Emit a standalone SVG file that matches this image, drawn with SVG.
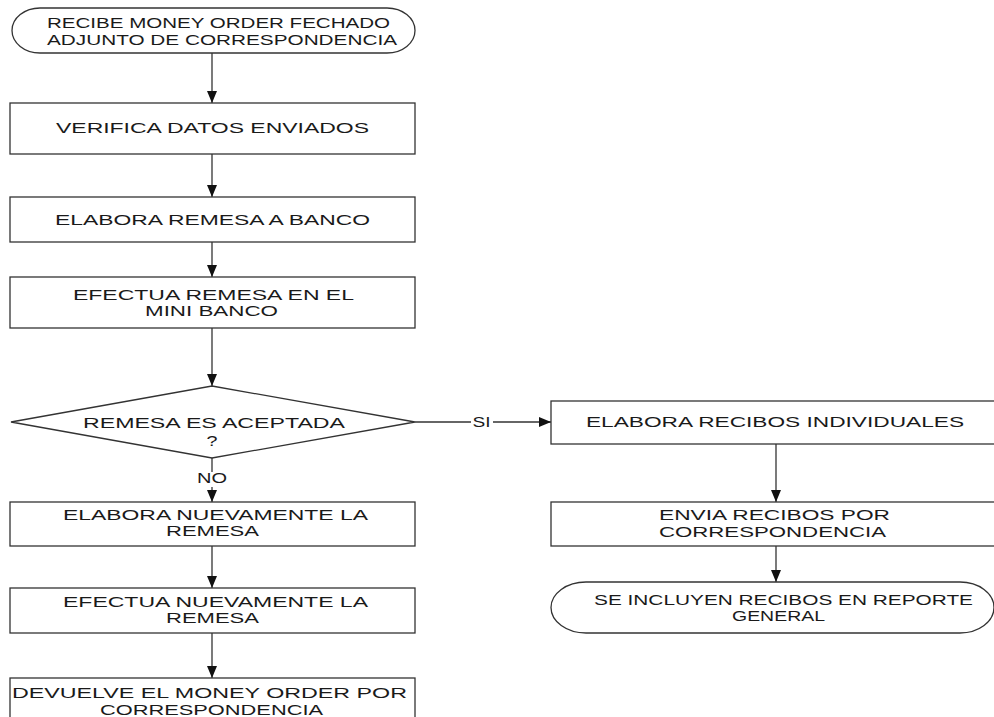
<svg xmlns="http://www.w3.org/2000/svg" width="994" height="717" viewBox="0 0 994 717">
<style>
.shape{fill:#fff;stroke:#333;stroke-width:1.3}
.conn{fill:none;stroke:#333;stroke-width:1.3}
text{font-family:"Liberation Sans",Arial,sans-serif;font-size:14px;fill:#1a1a1a;text-anchor:middle}
</style>
<defs>
<marker id="arr" markerUnits="userSpaceOnUse" markerWidth="12" markerHeight="12" viewBox="0 0 12 12" refX="12" refY="6" orient="auto">
<path d="M0,1 L12,6 L0,11 Z" fill="#111"/>
</marker>
</defs>
<rect width="994" height="717" fill="#fff"/>
<g id="connectors">
<line class="conn" x1="212" y1="53" x2="212" y2="103" marker-end="url(#arr)"/>
<line class="conn" x1="212" y1="154" x2="212" y2="197" marker-end="url(#arr)"/>
<line class="conn" x1="212" y1="242" x2="212" y2="277" marker-end="url(#arr)"/>
<line class="conn" x1="212" y1="328" x2="212" y2="386" marker-end="url(#arr)"/>
<line class="conn" x1="415" y1="422" x2="471" y2="422"/>
<line class="conn" x1="493" y1="422" x2="551" y2="422" marker-end="url(#arr)"/>
<text x="481.5" y="427" textLength="18" lengthAdjust="spacingAndGlyphs">SI</text>
<line class="conn" x1="212" y1="458" x2="212" y2="472"/>
<line class="conn" x1="212" y1="487" x2="212" y2="502" marker-end="url(#arr)"/>
<text x="212" y="483" textLength="30" lengthAdjust="spacingAndGlyphs">NO</text>
<line class="conn" x1="212" y1="546" x2="212" y2="588" marker-end="url(#arr)"/>
<line class="conn" x1="212" y1="633" x2="212" y2="678" marker-end="url(#arr)"/>
<line class="conn" x1="776" y1="444" x2="776" y2="502" marker-end="url(#arr)"/>
<line class="conn" x1="776" y1="546" x2="776" y2="582" marker-end="url(#arr)"/>
</g>
<g id="start">
<path class="shape" d="M40,8 H387 A28,22.5 0 0 1 387,53 H40 A28,22.5 0 0 1 40,8 Z"/>
<text x="218.5" y="28" textLength="343" lengthAdjust="spacingAndGlyphs">RECIBE MONEY ORDER FECHADO</text>
<text x="222" y="45" textLength="350" lengthAdjust="spacingAndGlyphs">ADJUNTO DE CORRESPONDENCIA</text>
</g>
<g id="verifica">
<rect class="shape" x="10" y="103" width="405" height="51"/>
<text x="212.5" y="133" textLength="313" lengthAdjust="spacingAndGlyphs">VERIFICA DATOS ENVIADOS</text>
</g>
<g id="elabora-remesa">
<rect class="shape" x="10" y="197" width="405" height="45"/>
<text x="212.5" y="225" textLength="315" lengthAdjust="spacingAndGlyphs">ELABORA REMESA A BANCO</text>
</g>
<g id="efectua-remesa">
<rect class="shape" x="10" y="277" width="405" height="51"/>
<text x="213.5" y="300" textLength="281" lengthAdjust="spacingAndGlyphs">EFECTUA REMESA EN EL</text>
<text x="211.5" y="316" textLength="133" lengthAdjust="spacingAndGlyphs">MINI BANCO</text>
</g>
<g id="decision">
<polygon class="shape" points="212,386 415,422 212,458 11,422"/>
<text x="214" y="428" textLength="262" lengthAdjust="spacingAndGlyphs">REMESA ES ACEPTADA</text>
<text x="212" y="446" textLength="11" lengthAdjust="spacingAndGlyphs">?</text>
</g>
<g id="elabora-nuevamente">
<rect class="shape" x="10" y="502" width="405" height="44"/>
<text x="215.5" y="520" textLength="305" lengthAdjust="spacingAndGlyphs">ELABORA NUEVAMENTE LA</text>
<text x="212.5" y="536" textLength="93" lengthAdjust="spacingAndGlyphs">REMESA</text>
</g>
<g id="efectua-nuevamente">
<rect class="shape" x="10" y="588" width="405" height="45"/>
<text x="215.5" y="607" textLength="305" lengthAdjust="spacingAndGlyphs">EFECTUA NUEVAMENTE LA</text>
<text x="212.5" y="623" textLength="93" lengthAdjust="spacingAndGlyphs">REMESA</text>
</g>
<g id="devuelve">
<rect class="shape" x="10" y="678" width="405" height="50"/>
<text x="209.5" y="698" textLength="395" lengthAdjust="spacingAndGlyphs">DEVUELVE EL MONEY ORDER POR</text>
<text x="211.5" y="715" textLength="223" lengthAdjust="spacingAndGlyphs">CORRESPONDENCIA</text>
</g>
<g id="elabora-recibos">
<rect class="shape" x="551" y="401" width="460" height="43"/>
<text x="775" y="427" textLength="378" lengthAdjust="spacingAndGlyphs">ELABORA RECIBOS INDIVIDUALES</text>
</g>
<g id="envia-recibos">
<rect class="shape" x="551" y="502" width="460" height="44"/>
<text x="774.5" y="520" textLength="231" lengthAdjust="spacingAndGlyphs">ENVIA RECIBOS POR</text>
<text x="772.5" y="537" textLength="227" lengthAdjust="spacingAndGlyphs">CORRESPONDENCIA</text>
</g>
<g id="end">
<path class="shape" d="M586,582 H960 A34,25.5 0 0 1 960,633 H586 A35,25.5 0 0 1 586,582 Z"/>
<text x="783.5" y="605" textLength="379" lengthAdjust="spacingAndGlyphs">SE INCLUYEN RECIBOS EN REPORTE</text>
<text x="778.5" y="621" textLength="93" lengthAdjust="spacingAndGlyphs">GENERAL</text>
</g>
</svg>
